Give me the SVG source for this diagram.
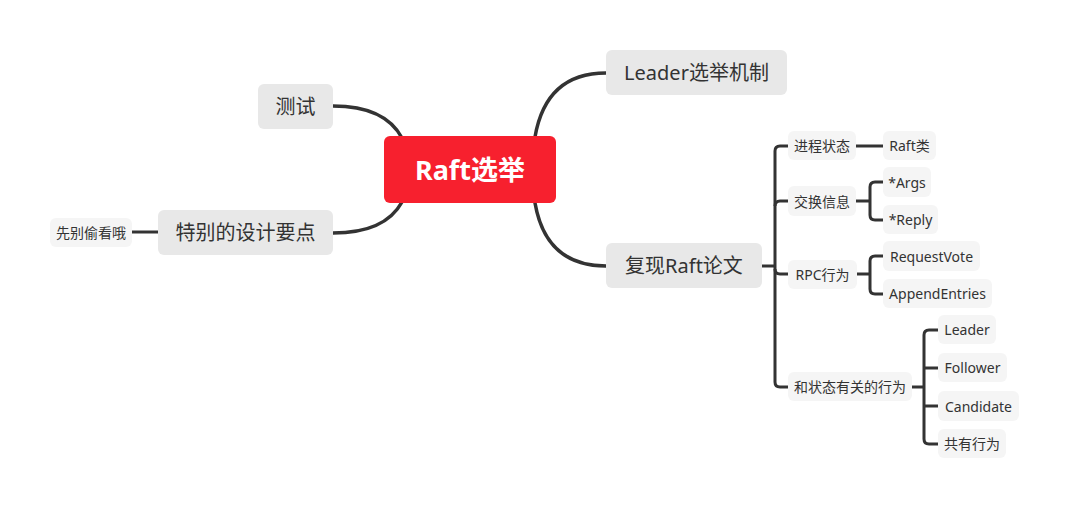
<svg xmlns="http://www.w3.org/2000/svg" width="1069" height="509" viewBox="0 0 1069 509">
<style>
.c{fill:none;stroke:#333;stroke-width:3.5;stroke-linecap:round}
.s{fill:none;stroke:#333;stroke-width:3;stroke-linecap:butt;stroke-linejoin:round}
.m{fill:#E8E8E8}
.n{fill:#F5F5F5}
.t{font-family:"Noto Sans","Noto Sans CJK SC",sans-serif;fill:#333;text-anchor:middle;dominant-baseline:central}
.b{font-size:20px}
.sm{font-size:14px}
</style>
<rect width="1069" height="509" fill="#fff"/>
<g id="connectors">
<path class="c" d="M333,106 Q385,106 402,138"/>
<path class="c" d="M333,233 Q385,233 402,202"/>
<path class="c" d="M535,137 Q546,73 606,73"/>
<path class="c" d="M535,203 Q546,266 606,266"/>
<path class="s" d="M132,232 H158"/>
<path class="s" d="M762,266 H775"/>
<path class="s" d="M788,146 H780 Q775,146 775,151 V382 Q775,387 780,387 H788"/>
<path class="s" d="M775,201 Q775,201 775,201 M775,206 Q775,201 780,201 H788"/>
<path class="s" d="M775,269 Q775,274 780,274 H788"/>
<path class="s" d="M856,146 H883"/>
<path class="s" d="M856,201 H870"/>
<path class="s" d="M883,182 H875 Q870,182 870,187 V215 Q870,220 875,220 H883"/>
<path class="s" d="M857,274 H870"/>
<path class="s" d="M883,256 H875 Q870,256 870,261 V289 Q870,294 875,294 H883"/>
<path class="s" d="M912,387 H924"/>
<path class="s" d="M938,330 H929 Q924,330 924,335 V439 Q924,444 929,444 H938"/>
<path class="s" d="M924,368 H938"/>
<path class="s" d="M924,406 H938"/>
</g>
<g id="root">
<rect x="384" y="136" width="172" height="67" rx="6" fill="#F7202E"/>
<text x="470" y="169" font-family="'Noto Sans','Noto Sans CJK SC',sans-serif" font-size="27" font-weight="bold" fill="#fff" text-anchor="middle" dominant-baseline="central">Raft选举</text>
</g>
<g id="n-leader"><rect class="m" x="606" y="50" width="181" height="45" rx="6"/><text class="t b" x="696.5" y="72.5">Leader选举机制</text></g>
<g id="n-fuxian"><rect class="m" x="606" y="243" width="156" height="45" rx="6"/><text class="t b" x="684" y="265.5">复现Raft论文</text></g>
<g id="n-ceshi"><rect class="m" x="258" y="84" width="75" height="45" rx="6"/><text class="t b" x="295.5" y="106.5">测试</text></g>
<g id="n-sheji"><rect class="m" x="158" y="210" width="175" height="45" rx="6"/><text class="t b" x="245.5" y="232.5">特别的设计要点</text></g>
<g id="n-toukan"><rect class="n" x="50" y="218" width="82" height="29" rx="6"/><text class="t sm" x="91" y="232.5">先别偷看哦</text></g>
<g id="n-jincheng"><rect class="n" x="788" y="131" width="68" height="29" rx="6"/><text class="t sm" x="822" y="145.5">进程状态</text></g>
<g id="n-raftlei"><rect class="n" x="883" y="131" width="53" height="29" rx="6"/><text class="t sm" x="909.5" y="145.5">Raft类</text></g>
<g id="n-jiaohuan"><rect class="n" x="788" y="186" width="68" height="30" rx="6"/><text class="t sm" x="822" y="201">交换信息</text></g>
<g id="n-args"><rect class="n" x="883" y="167" width="48" height="30" rx="6"/><text class="t sm" x="907" y="182">*Args</text></g>
<g id="n-reply"><rect class="n" x="883" y="205" width="55" height="29" rx="6"/><text class="t sm" x="910.5" y="219.5">*Reply</text></g>
<g id="n-rpc"><rect class="n" x="788" y="260" width="69" height="29" rx="6"/><text class="t sm" x="822.5" y="274.5">RPC行为</text></g>
<g id="n-reqvote"><rect class="n" x="883" y="241" width="97" height="30" rx="6"/><text class="t sm" x="931.5" y="256">RequestVote</text></g>
<g id="n-append"><rect class="n" x="883" y="279" width="109" height="29" rx="6"/><text class="t sm" x="937.5" y="293.5">AppendEntries</text></g>
<g id="n-zhuangtai"><rect class="n" x="788" y="372" width="124" height="29" rx="6"/><text class="t sm" x="850" y="386.5">和状态有关的行为</text></g>
<g id="n-sleader"><rect class="n" x="938" y="315" width="58" height="29" rx="6"/><text class="t sm" x="967" y="329.5">Leader</text></g>
<g id="n-follower"><rect class="n" x="938" y="353" width="69" height="29" rx="6"/><text class="t sm" x="972.5" y="367.5">Follower</text></g>
<g id="n-candidate"><rect class="n" x="938" y="391" width="81" height="30" rx="6"/><text class="t sm" x="978.5" y="406">Candidate</text></g>
<g id="n-gongyou"><rect class="n" x="938" y="429" width="68" height="29" rx="6"/><text class="t sm" x="972" y="443.5">共有行为</text></g>
</svg>
